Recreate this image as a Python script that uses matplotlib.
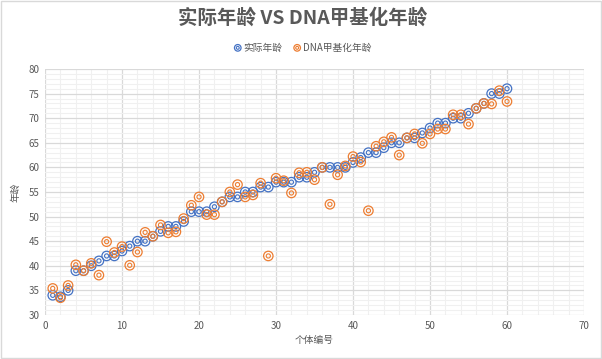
import matplotlib
matplotlib.use("Agg")
import matplotlib.pyplot as plt
from matplotlib.patches import Rectangle
from matplotlib.ticker import MultipleLocator

plt.rcParams['font.family'] = ['Noto Sans CJK SC', 'DejaVu Sans']

# 个体编号 1..60
ids = list(range(1, 61))

# 实际年龄
actual = [34, 33.7, 35, 39, 39, 40, 41, 42, 42, 43,
          44, 45, 45, 46, 47, 48, 48, 49, 51, 51,
          51, 52, 53, 54, 54, 55, 55, 56, 56, 57,
          57, 57, 58, 58, 59, 60, 60, 60, 60, 61,
          62, 63, 63, 64, 65, 65, 66, 66, 67, 68,
          69, 69, 70, 70, 71, 72, 73, 75, 75, 76]

# DNA甲基化年龄
dnam = [35.4, 33.5, 36.0, 40.2, 39.0, 40.5, 38.1, 44.9, 42.7, 43.9,
        40.1, 42.8, 46.8, 46.0, 48.3, 46.7, 46.9, 49.6, 52.3, 54.0,
        50.4, 50.4, 53.0, 55.0, 56.5, 54.0, 54.4, 56.8, 42.0, 57.8,
        57.3, 54.8, 58.9, 59.0, 57.5, 60.0, 52.5, 58.5, 60.3, 62.2,
        61.1, 51.2, 64.3, 65.2, 66.1, 62.5, 66.0, 66.8, 64.9, 66.8,
        67.8, 67.8, 70.7, 70.7, 68.8, 72.0, 73.0, 72.9, 75.6, 73.4]

blue = '#4472C4'
orange = '#ED7D31'
txt = '#595959'

fig = plt.figure(figsize=(6.02, 3.59), dpi=100)
ax = fig.add_axes([0.0748, 0.1226, 0.8953, 0.6852])

# 双圈标记
handles = []
for y, c in [(actual, blue), (dnam, orange)]:
    a = ax.scatter(ids, y, s=46, facecolors='none', edgecolors=c, linewidths=0.9, zorder=3)
    b = ax.scatter(ids, y, s=9, facecolors='none', edgecolors=c, linewidths=0.8, zorder=3)
    handles.append((a, b))

ax.set_xlim(0, 70)
ax.set_ylim(30, 80)
ax.xaxis.set_major_locator(MultipleLocator(10))
ax.xaxis.set_minor_locator(MultipleLocator(2))
ax.yaxis.set_major_locator(MultipleLocator(5))
ax.yaxis.set_minor_locator(MultipleLocator(1))
ax.grid(which='major', color='#D9D9D9', linewidth=0.9, zorder=0)
ax.grid(which='minor', color='#F0F0F0', linewidth=0.8, zorder=0)
ax.set_axisbelow(True)
for s in ax.spines.values():
    s.set_visible(False)
ax.tick_params(which='both', length=0, labelsize=7, colors=txt, pad=4)

ax.set_xlabel('个体编号', fontsize=7, color=txt, labelpad=3)
ax.set_ylabel('年龄', fontsize=7, color=txt, labelpad=6)

fig.text(0.503, 0.95, '实际年龄 VS DNA甲基化年龄', ha='center', va='center',
         fontsize=14, fontweight='bold', color=txt)
fig.legend(handles, ['实际年龄', 'DNA甲基化年龄'], loc='center',
           bbox_to_anchor=(0.502, 0.868), ncol=2, frameon=False,
           fontsize=7, labelcolor=txt, handlelength=1.0, handletextpad=0.1,
           columnspacing=1.0, markerscale=0.7)

fig.patches.append(Rectangle((0.002, 0.003), 0.996, 0.994, transform=fig.transFigure,
                             fill=False, edgecolor='#D9D9D9', linewidth=1))

fig.savefig('out.png', dpi=100)
